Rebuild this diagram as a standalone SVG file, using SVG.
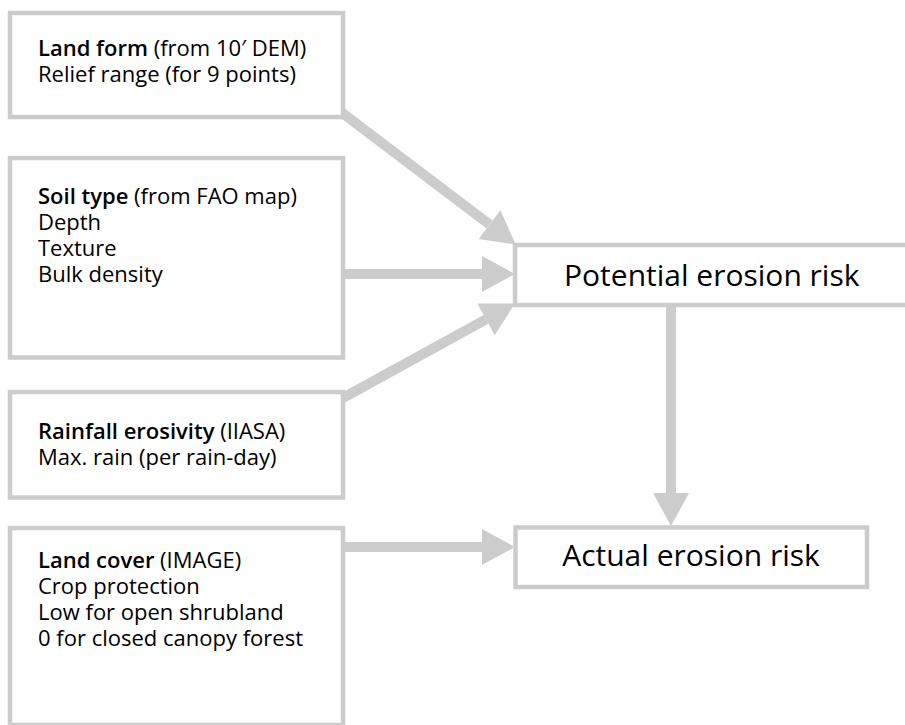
<svg xmlns="http://www.w3.org/2000/svg" width="905" height="725" viewBox="0 0 905 725">
<style>
.box{fill:#ffffff;stroke:#cccccc;stroke-width:4.5}
.t{font-family:"Open Sans","Noto Sans","Liberation Sans",sans-serif;font-size:22px;fill:#000000}
.b{font-weight:600}
.big{font-family:"Open Sans","Noto Sans","Liberation Sans",sans-serif;font-size:30px;fill:#000000}
.c{fill:none;stroke:#cccccc;stroke-width:10;marker-end:url(#ah)}
</style>
<defs>
<marker id="ah" markerUnits="userSpaceOnUse" markerWidth="34" markerHeight="36" refX="0" refY="18" orient="auto" viewBox="0 0 34 36" overflow="visible">
<path d="M0,0 L33,18 L0,36 Z" fill="#cccccc"/>
</marker>
</defs>
<g id="connectors">
<line class="c" x1="341" y1="112" x2="489.5" y2="224.6"/>
<line class="c" x1="343" y1="274" x2="482" y2="274"/>
<line class="c" x1="341" y1="399" x2="486" y2="319.4"/>
<line class="c" x1="343" y1="547" x2="482" y2="547"/>
<line class="c" x1="671" y1="305" x2="671" y2="493"/>
</g>
<g id="landform">
<rect class="box" x="10" y="13" width="333" height="104"/>
<text class="t" x="38" y="56"><tspan class="b">Land form</tspan> (from 10′ DEM)</text>
<text class="t" x="38" y="82">Relief range (for 9 points)</text>
</g>
<g id="soiltype">
<rect class="box" x="10" y="158" width="333" height="199.5"/>
<text class="t" x="38" y="204"><tspan class="b">Soil type</tspan> (from FAO map)</text>
<text class="t" x="38" y="230">Depth</text>
<text class="t" x="38" y="256">Texture</text>
<text class="t" x="38" y="282">Bulk density</text>
</g>
<g id="rainfall">
<rect class="box" x="10" y="392" width="333" height="105.5"/>
<text class="t" x="38" y="439"><tspan class="b">Rainfall erosivity</tspan> (IIASA)</text>
<text class="t" x="38" y="465">Max. rain (per rain-day)</text>
</g>
<g id="landcover">
<rect class="box" x="10" y="528" width="333" height="197"/>
<text class="t" x="38" y="568"><tspan class="b">Land cover</tspan> (IMAGE)</text>
<text class="t" x="38" y="594">Crop protection</text>
<text class="t" x="38" y="620">Low for open shrubland</text>
<text class="t" x="38" y="646">0 for closed canopy forest</text>
</g>
<g id="potential">
<rect class="box" x="515" y="245" width="420" height="60"/>
<text class="big" x="564" y="286">Potential erosion risk</text>
</g>
<g id="actual">
<rect class="box" x="515.5" y="527.5" width="351.5" height="59.5"/>
<text class="big" x="691" y="566" text-anchor="middle">Actual erosion risk</text>
</g>
</svg>
